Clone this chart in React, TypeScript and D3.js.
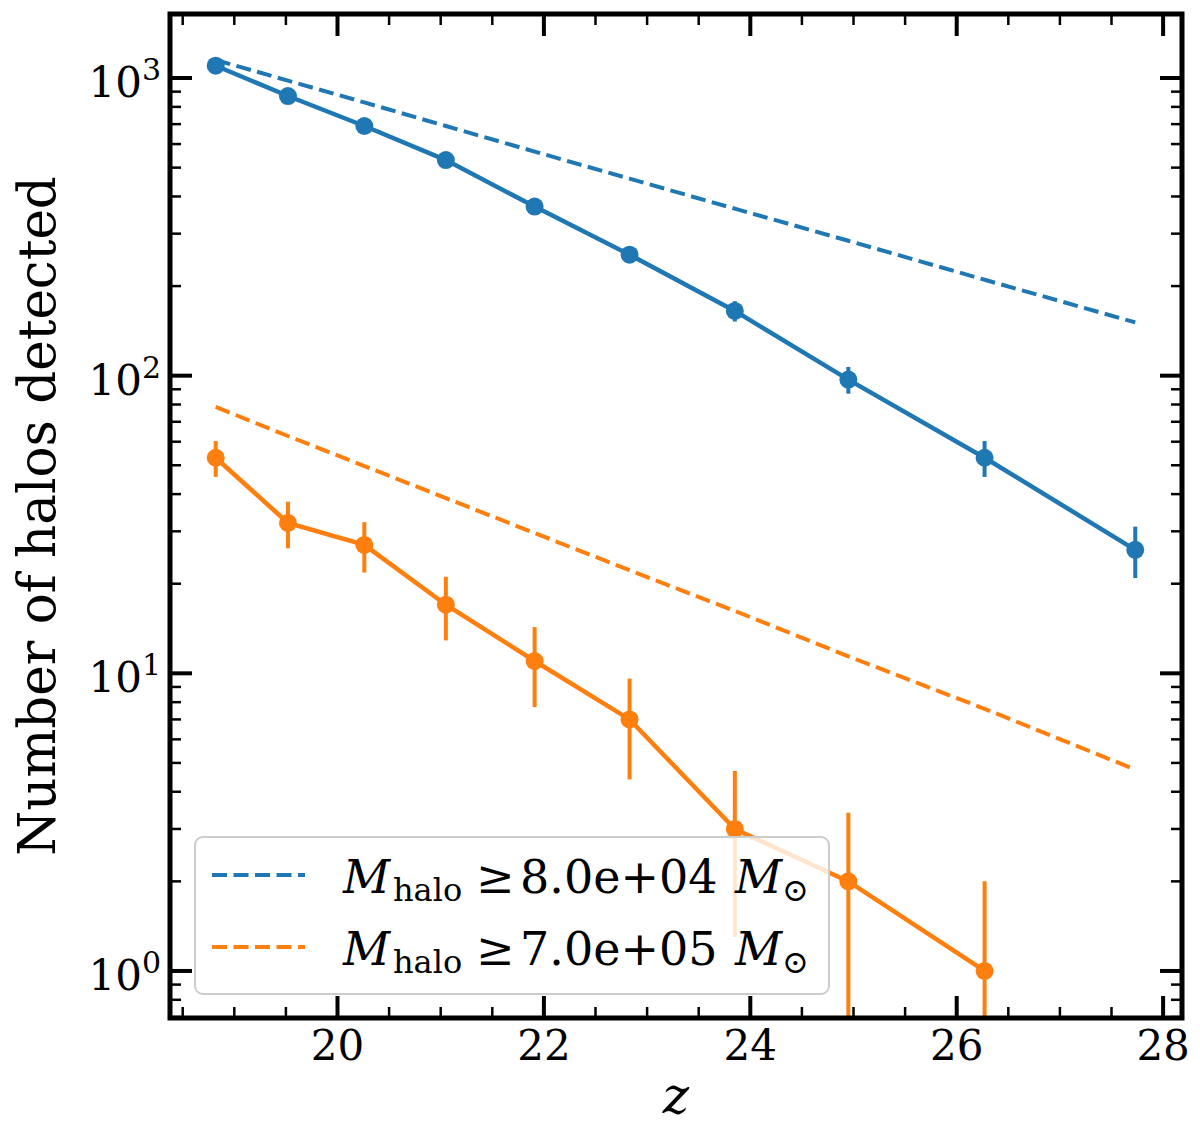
import React from "react";
import * as d3 from "d3";

// ---- data ----
const zValues = [18.82, 19.52, 20.26, 21.05, 21.91, 22.83, 23.85, 24.95, 26.27, 27.73];
const blueCounts = [1100, 870, 690, 530, 370, 255, 165, 97, 53, 26];
const blueErrors = [33, 29.5, 26, 23, 19, 16, 13, 10, 7.3, 5.1];
const orangeCounts = [53, 32, 27, 17, 11, 7, 3, 2, 1];
const orangeErrors = [7.3, 5.7, 5.2, 4.1, 3.3, 2.6, 1.7, 1.4, 1.0];
const blueModel = [1150, 980, 828, 690, 566, 459, 364, 284, 210, 151];
const orangeModel = [78.5, 62.7, 49.7, 38.8, 29.6, 22.2, 16.2, 11.4, 7.6, 4.75];
const xMajorTicks = [20, 22, 24, 26, 28];
const yMajorTicks = [1, 10, 100, 1000];
const yMajorExponents = ["0", "1", "2", "3"];
const legendLabels = ["8.0e+04", "7.0e+05"];
const xDomain = [18.377, 28.183];
const yDomain = [0.695, 1641];

const BLUE = "#1f77b4";
const ORANGE = "#ff7f0e";
const FONT = '"DejaVu Serif"';

const L = 170, R = 1182, T = 14, B = 1018;

export default function App() {
  const x = d3.scaleLinear().domain(xDomain).range([L, R]);
  const y = d3.scaleLog().domain(yDomain).range([B, T]);

  const xMinor: number[] = [];
  for (let v = 18.5; v <= 28.2; v += 0.5) {
    if (!xMajorTicks.some((m) => Math.abs(m - v) < 1e-6) && v >= xDomain[0] && v <= xDomain[1]) xMinor.push(v);
  }
  const yMinor: number[] = [];
  for (let e = -1; e <= 3; e++) {
    for (let k = 2; k <= 9; k++) {
      const v = k * Math.pow(10, e);
      if (v >= yDomain[0] && v <= yDomain[1]) yMinor.push(v);
    }
  }

  const line = d3
    .line<[number, number]>()
    .x((d) => x(d[0]))
    .y((d) => y(d[1]));

  const bluePts: [number, number][] = zValues.map((z, i) => [z, blueCounts[i]]);
  const orangePts: [number, number][] = orangeCounts.map((n, i) => [zValues[i], n]);
  const blueModelPts: [number, number][] = zValues.map((z, i) => [z, blueModel[i]]);
  const orangeModelPts: [number, number][] = zValues.map((z, i) => [z, orangeModel[i]]);

  const errY = (v: number) => (v <= 0 ? B + 50 : y(v));

  const majLen = 22, minLen = 11;
  const serif = { fontFamily: FONT };

  return (
    <svg
      width={1200}
      height={1124}
      style={{ position: "absolute", left: 0, top: 0, background: "#fff", fontFamily: FONT }}
    >
      <defs>
        <clipPath id="plotClip">
          <rect x={L} y={T} width={R - L} height={B - T} />
        </clipPath>
      </defs>
      <rect x={0} y={0} width={1200} height={1124} fill="#fff" />

      <g clipPath="url(#plotClip)">
        <path d={line(blueModelPts) || ""} fill="none" stroke={BLUE} strokeWidth={4} strokeDasharray="15 6.5" />
        <path d={line(orangeModelPts) || ""} fill="none" stroke={ORANGE} strokeWidth={4} strokeDasharray="15 6.5" />

        <path d={line(bluePts) || ""} fill="none" stroke={BLUE} strokeWidth={4.5} />
        {bluePts.map((p, i) => (
          <line
            key={"be" + i}
            x1={x(p[0])}
            x2={x(p[0])}
            y1={errY(p[1] - blueErrors[i])}
            y2={errY(p[1] + blueErrors[i])}
            stroke={BLUE}
            strokeWidth={4}
          />
        ))}
        {bluePts.map((p, i) => (
          <circle key={"bm" + i} cx={x(p[0])} cy={y(p[1])} r={9} fill={BLUE} />
        ))}

        <path d={line(orangePts) || ""} fill="none" stroke={ORANGE} strokeWidth={4.5} />
        {orangePts.map((p, i) => (
          <line
            key={"oe" + i}
            x1={x(p[0])}
            x2={x(p[0])}
            y1={errY(p[1] - orangeErrors[i])}
            y2={errY(p[1] + orangeErrors[i])}
            stroke={ORANGE}
            strokeWidth={4}
          />
        ))}
        {orangePts.map((p, i) => (
          <circle key={"om" + i} cx={x(p[0])} cy={y(p[1])} r={9} fill={ORANGE} />
        ))}
      </g>

      <g stroke="#000">
        {xMajorTicks.map((v) => (
          <g key={"xM" + v}>
            <line x1={x(v)} x2={x(v)} y1={B} y2={B - majLen} strokeWidth={4} />
            <line x1={x(v)} x2={x(v)} y1={T} y2={T + majLen} strokeWidth={4} />
          </g>
        ))}
        {xMinor.map((v) => (
          <g key={"xm" + v}>
            <line x1={x(v)} x2={x(v)} y1={B} y2={B - minLen} strokeWidth={2.5} />
            <line x1={x(v)} x2={x(v)} y1={T} y2={T + minLen} strokeWidth={2.5} />
          </g>
        ))}
        {yMajorTicks.map((v) => (
          <g key={"yM" + v}>
            <line x1={L} x2={L + majLen} y1={y(v)} y2={y(v)} strokeWidth={4} />
            <line x1={R} x2={R - majLen} y1={y(v)} y2={y(v)} strokeWidth={4} />
          </g>
        ))}
        {yMinor.map((v) => (
          <g key={"ym" + v}>
            <line x1={L} x2={L + minLen} y1={y(v)} y2={y(v)} strokeWidth={2.5} />
            <line x1={R} x2={R - minLen} y1={y(v)} y2={y(v)} strokeWidth={2.5} />
          </g>
        ))}
      </g>

      <rect x={L} y={T} width={R - L} height={B - T} fill="none" stroke="#000" strokeWidth={5} />

      {xMajorTicks.map((v) => (
        <text key={"xl" + v} x={x(v)} y={1060} fontSize={42} textAnchor="middle" fill="#000" style={serif}>
          {v}
        </text>
      ))}
      {yMajorTicks.map((v, i) => (
        <text key={"yl" + v} x={161} y={y(v) + 19} fontSize={42} textAnchor="end" fill="#000" style={serif}>
          <tspan>10</tspan>
          <tspan dy={-17} fontSize={30}>
            {yMajorExponents[i]}
          </tspan>
        </text>
      ))}

      <text x={(L + R) / 2} y={1113} fontSize={50} fontStyle="italic" textAnchor="middle" fill="#000" style={serif}>
        z
      </text>
      <text
        transform={`translate(55, ${(T + B) / 2}) rotate(-90)`}
        fontSize={51.5}
        textAnchor="middle"
        fill="#000"
        style={serif}
      >
        Number of halos detected
      </text>

      <rect x={195} y={837} width={634} height={157} rx={8} ry={8} fill="#fff" fillOpacity={0.8} stroke="#cccccc" strokeWidth={2} />
      {[BLUE, ORANGE].map((c, i) => {
        const cy = 875 + i * 72;
        const by = 893 + i * 72;
        return (
          <g key={"lg" + i}>
            <line x1={212} x2={305} y1={cy} y2={cy} stroke={c} strokeWidth={4} strokeDasharray="15 6.5" />
            <text y={by} fontSize={46} fill="#000" style={serif}>
              <tspan x={343} fontStyle="italic">M</tspan>
              <tspan x={393} dy={8} fontSize={32}>halo</tspan>
              <tspan x={476} dy={-8}>≥</tspan>
              <tspan x={520}>{legendLabels[i]}</tspan>
              <tspan x={735} fontStyle="italic">M</tspan>
              <tspan x={782} dy={8} fontSize={32}>⊙</tspan>
            </text>
          </g>
        );
      })}
    </svg>
  );
}
